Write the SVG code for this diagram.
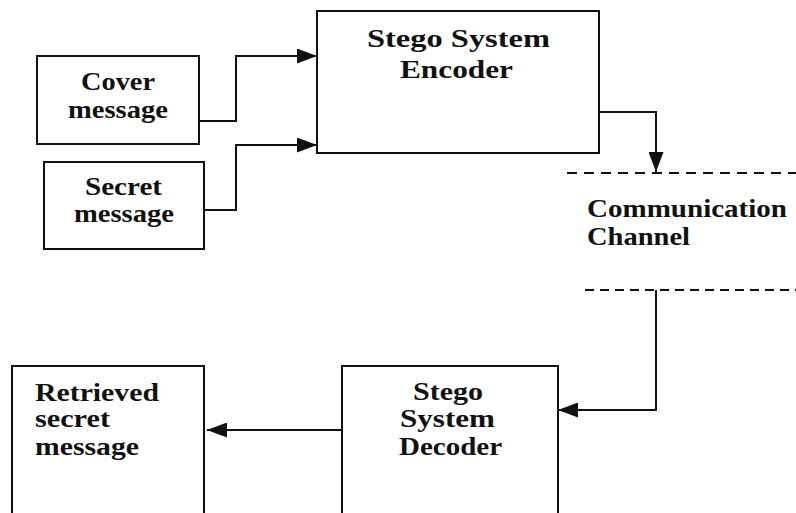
<svg xmlns="http://www.w3.org/2000/svg" width="796" height="513" viewBox="0 0 796 513">
  <style>
    .box { fill: #ffffff; stroke: #111111; stroke-width: 2; }
    .lbl { font-family: "Liberation Serif", "Times New Roman", serif; font-weight: bold; font-size: 25px; fill: #111111; }
    .wire { fill: none; stroke: #111111; stroke-width: 2; }
    .dash { fill: none; stroke: #111111; stroke-width: 2; }
  </style>
  <defs>
    <marker id="arrow" viewBox="0 0 20 15" markerWidth="20" markerHeight="15" refX="20" refY="7.5" orient="auto" markerUnits="userSpaceOnUse">
      <path d="M0,0 L20,7.5 L0,15 z" fill="#111111"/>
    </marker>
  </defs>
  <rect width="796" height="513" fill="#ffffff"/>

  <g id="cover-message">
    <rect class="box" x="37" y="56" width="162" height="88"/>
    <text class="lbl" x="81" y="90" textLength="74" lengthAdjust="spacingAndGlyphs">Cover</text>
    <text class="lbl" x="68" y="118" textLength="100" lengthAdjust="spacingAndGlyphs">message</text>
  </g>

  <g id="secret-message">
    <rect class="box" x="44" y="162" width="160" height="87"/>
    <text class="lbl" x="85" y="195" textLength="77" lengthAdjust="spacingAndGlyphs">Secret</text>
    <text class="lbl" x="74" y="222" textLength="100" lengthAdjust="spacingAndGlyphs">message</text>
  </g>

  <g id="stego-encoder">
    <rect class="box" x="317" y="11" width="282" height="142"/>
    <text class="lbl" x="367" y="47" textLength="183" lengthAdjust="spacingAndGlyphs">Stego System</text>
    <text class="lbl" x="400" y="78" textLength="113" lengthAdjust="spacingAndGlyphs">Encoder</text>
  </g>

  <g id="communication-channel">
    <line class="dash" x1="567" y1="173" x2="796" y2="173" stroke-dasharray="10 7"/>
    <text class="lbl" x="587" y="217" textLength="200" lengthAdjust="spacingAndGlyphs">Communication</text>
    <text class="lbl" x="587" y="245" textLength="103" lengthAdjust="spacingAndGlyphs">Channel</text>
    <line class="dash" x1="585" y1="290" x2="796" y2="290" stroke-dasharray="9 6"/>
  </g>

  <g id="stego-decoder">
    <rect class="box" x="342" y="366" width="216" height="160"/>
    <text class="lbl" x="413" y="400" textLength="70" lengthAdjust="spacingAndGlyphs">Stego</text>
    <text class="lbl" x="400" y="427" textLength="95" lengthAdjust="spacingAndGlyphs">System</text>
    <text class="lbl" x="399" y="455" textLength="103" lengthAdjust="spacingAndGlyphs">Decoder</text>
  </g>

  <g id="retrieved-message">
    <rect class="box" x="12" y="366" width="192" height="160"/>
    <text class="lbl" x="35" y="401" textLength="124" lengthAdjust="spacingAndGlyphs">Retrieved</text>
    <text class="lbl" x="35" y="427" textLength="75" lengthAdjust="spacingAndGlyphs">secret</text>
    <text class="lbl" x="35" y="455" textLength="104" lengthAdjust="spacingAndGlyphs">message</text>
  </g>

  <g id="connectors">
    <path class="wire" d="M199,121 H236 V56 H317" marker-end="url(#arrow)"/>
    <path class="wire" d="M204,210 H236 V145 H317" marker-end="url(#arrow)"/>
    <path class="wire" d="M599,112 H656 V172" marker-end="url(#arrow)"/>
    <path class="wire" d="M656,290 V410 H558" marker-end="url(#arrow)"/>
    <path class="wire" d="M342,430 H207" marker-end="url(#arrow)"/>
  </g>
</svg>
